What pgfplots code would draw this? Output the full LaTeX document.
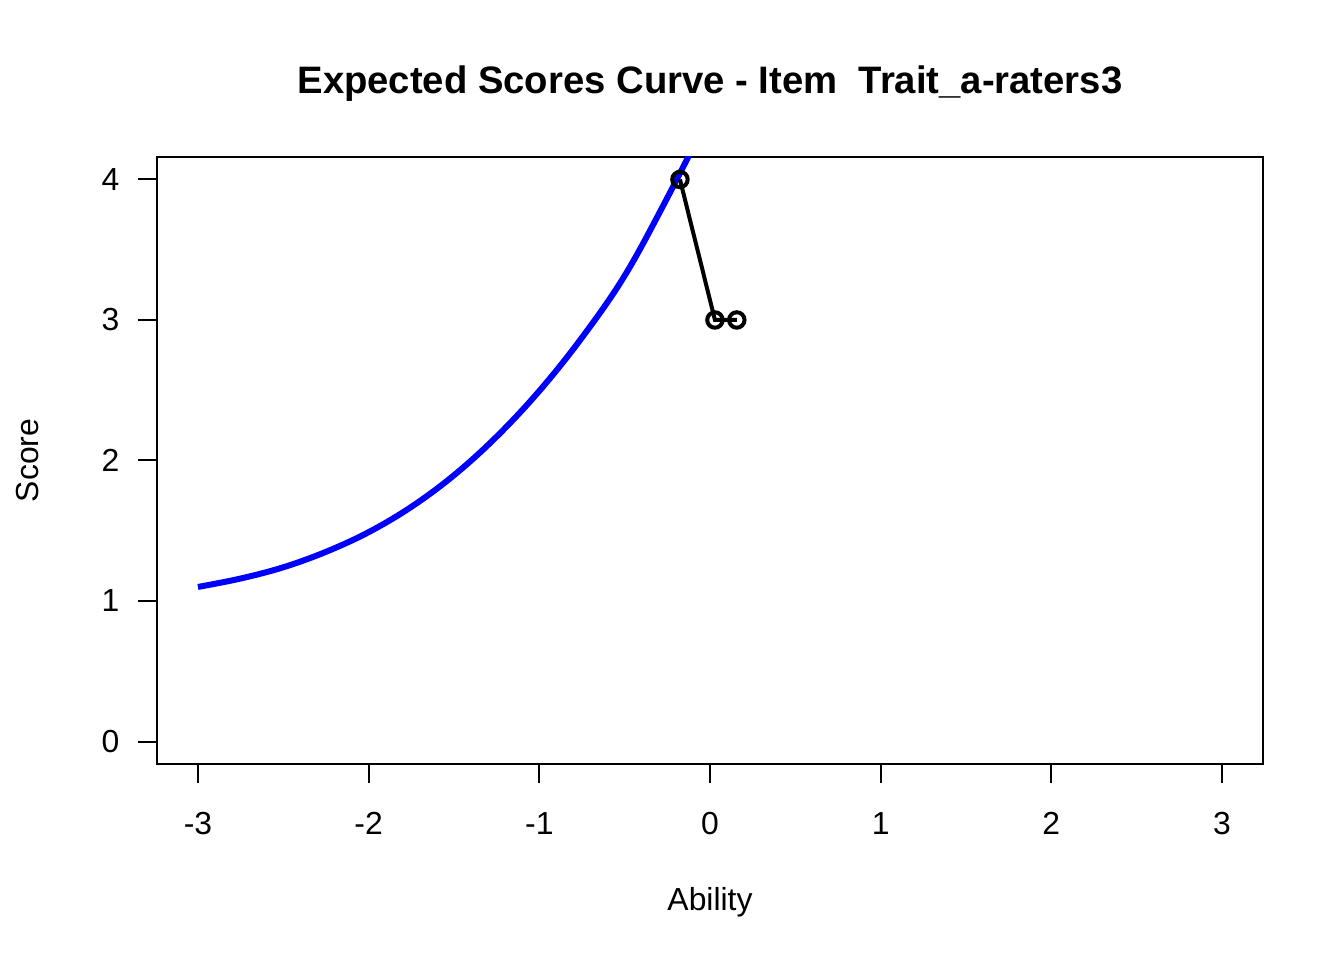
\documentclass[border=0pt]{standalone}
\usepackage{pgfplots}
\pgfplotsset{compat=1.18}
\usepackage{fontspec}
\setmainfont{Liberation Sans}
\begin{document}
\begin{tikzpicture}
\useasboundingbox (0,0) rectangle (504bp,360bp);
\begin{axis}[
  at={(58.875bp,73.5bp)}, anchor=south west,
  scale only axis, width=414.75bp, height=227.625bp,
  xmin=-3.24, xmax=3.24, ymin=-0.16, ymax=4.16,
  xtick={-3,-2,-1,0,1,2,3}, ytick={0,1,2,3,4},
  xtick pos=bottom, ytick pos=left,
  tick align=outside, major tick length=7.2bp,
  axis line style={line width=0.75bp},
  every tick/.style={black, line width=0.75bp},
  /pgf/number format/assume math mode=true,
  tick label style={font=\fontsize{12}{14}\selectfont},
  xticklabel style={anchor=base, yshift=-19.4bp},
  yticklabel style={anchor=east, xshift=-3.4bp},
  clip=true,
]
\addplot[blue, line width=2.25bp, smooth, tension=0.6] coordinates {
(-3.00,1.100) (-2.75,1.160) (-2.50,1.240) (-2.25,1.350) (-2.00,1.490)
(-1.75,1.670) (-1.50,1.895) (-1.25,2.170) (-1.00,2.495) (-0.75,2.875)
(-0.50,3.315) (-0.25,3.870) (0.00,4.470)
};
\addplot[black, line width=1.5bp, mark=o, mark size=2.9bp,
  mark options={line width=1.5bp}] coordinates {
(-0.176,4) (0.029,3) (0.157,3)
};
\end{axis}
\node[anchor=base, font=\bfseries\fontsize{14.4}{17}\selectfont] at (266.25bp,324.75bp) {Expected Scores Curve - Item\ \ Trait\_a-raters3};
\node[anchor=base, font=\fontsize{12}{14}\selectfont] at (266.25bp,18.4bp) {Ability};
\node[anchor=base, rotate=90, font=\fontsize{12}{14}\selectfont] at (14.25bp,187.3bp) {Score};
\end{tikzpicture}
\end{document}
